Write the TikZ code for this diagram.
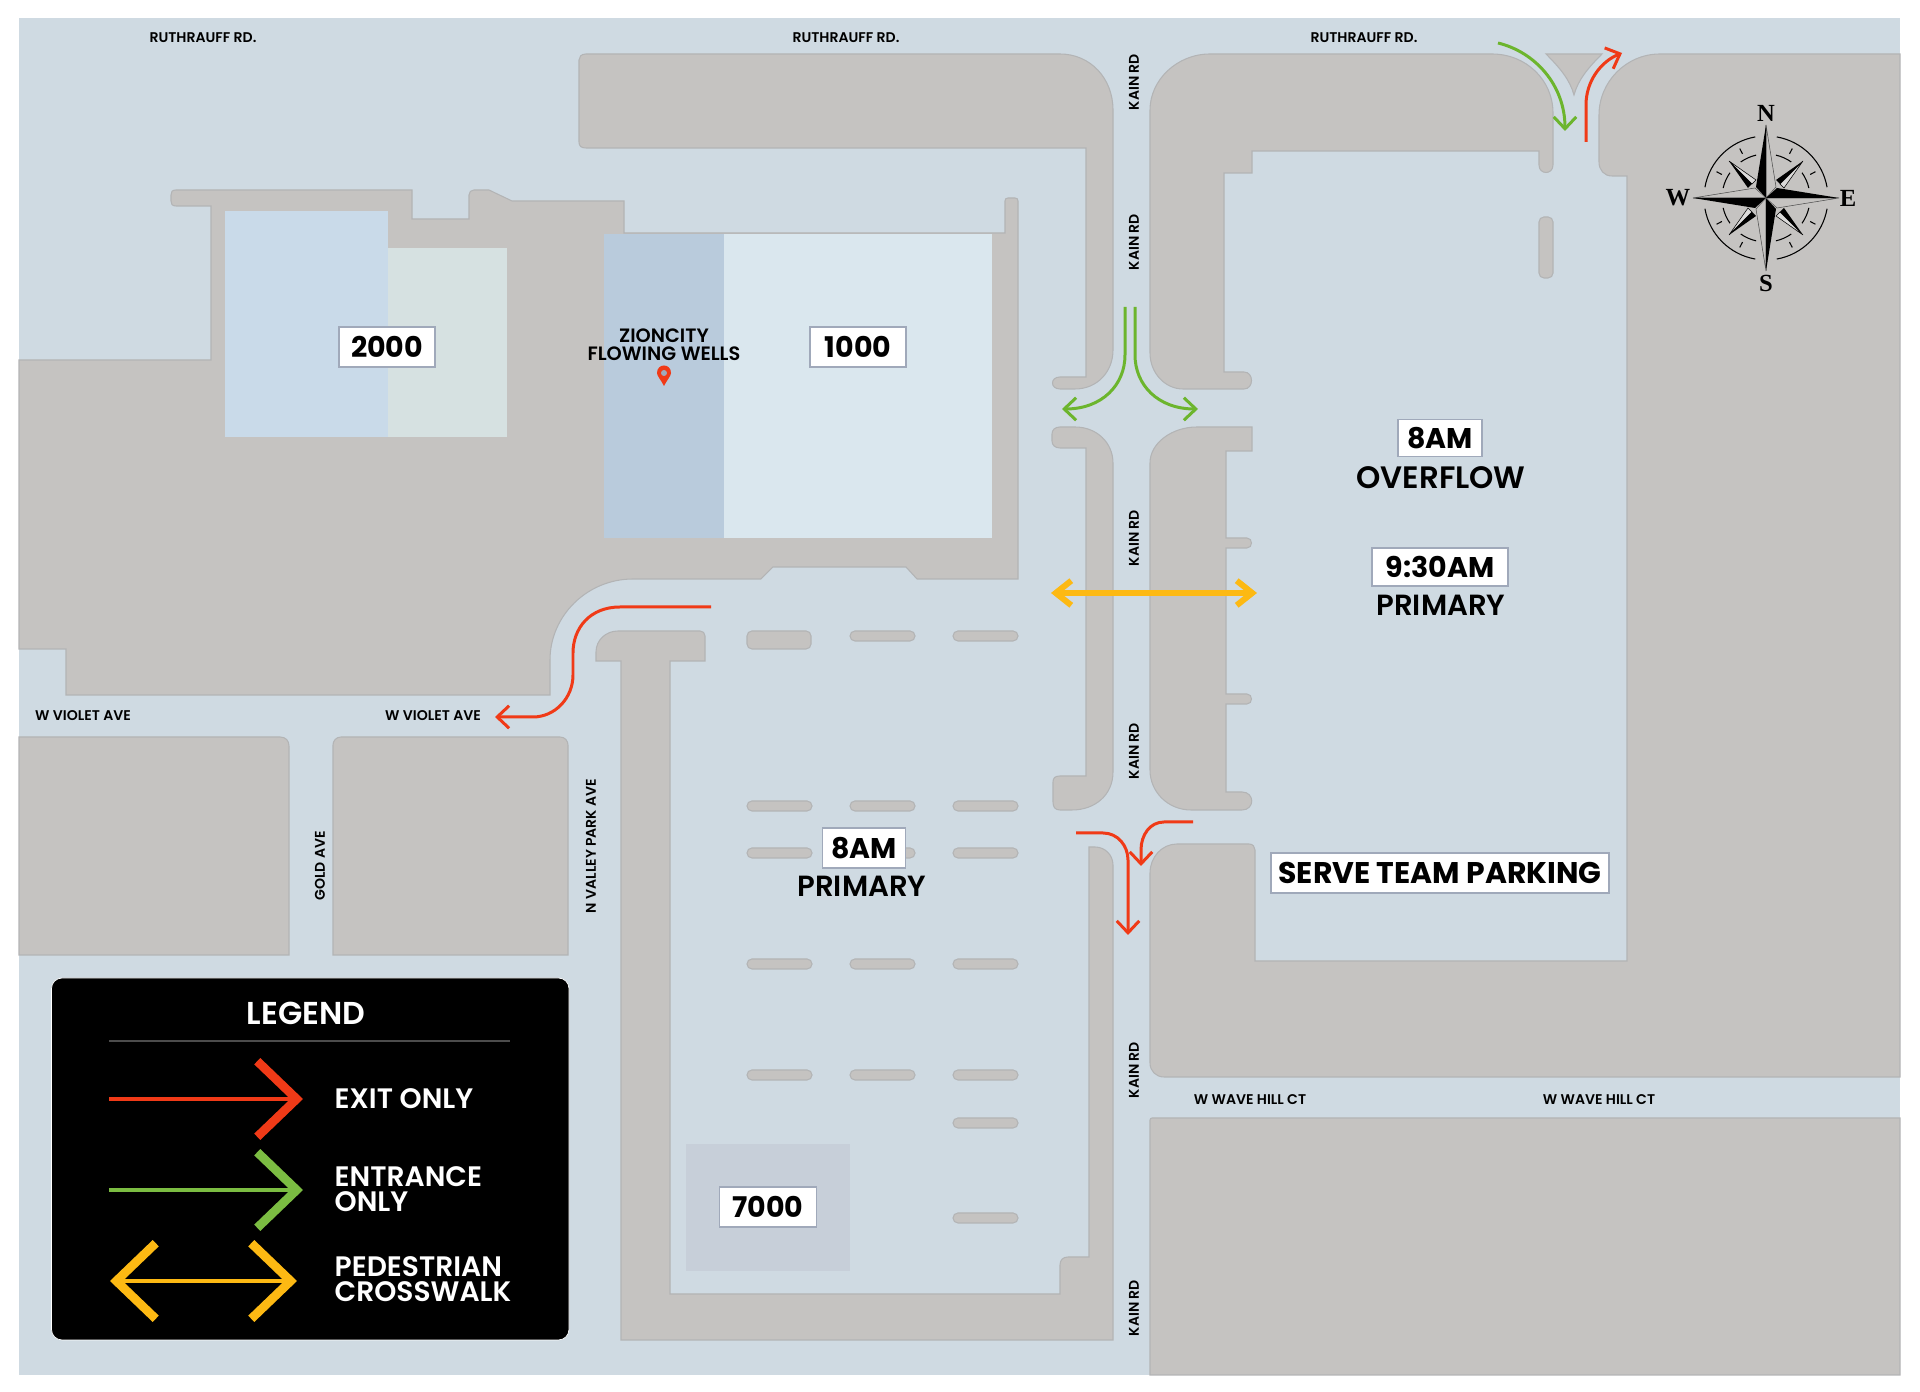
\documentclass[tikz,border=0pt]{standalone}
\usepackage{fontspec}
\setmainfont{Poppins}[BoldFont={Poppins SemiBold}]
\newfontfamily\compassfont{Liberation Serif}
\newfontfamily\tagfont{Poppins}[UprightFont={Poppins Bold}]
\usetikzlibrary{arrows.meta}
\definecolor{mapblue}{HTML}{CFDAE2}
\definecolor{roadgray}{HTML}{C5C3C1}
\definecolor{roadedge}{HTML}{B3B4B5}
\definecolor{tagedge}{HTML}{A0A9BA}
\definecolor{exitred}{HTML}{F03A17}
\definecolor{enterstroke}{HTML}{6CB52D}
\definecolor{walkyellow}{HTML}{FDB913}
\tikzset{
    block/.style={fill=roadgray,draw=roadedge,line width=0.3pt},
    pill/.style={block,rounded corners=1.4pt},
    tagbox/.style={fill=white,draw=tagedge,line width=0.4pt,inner sep=0pt,font=\fontsize{8.1}{9}\selectfont\tagfont},
    bigtext/.style={inner sep=0pt,font=\fontsize{8.3}{9}\selectfont\bfseries},
    street/.style={inner sep=0pt,font=\fontsize{4}{4}\selectfont\bfseries},
    exitline/.style={draw=exitred,line width=0.85pt,-{Straight Barb[length=3.4pt,width=6.4pt]}},
    enterline/.style={draw=enterstroke,line width=0.85pt,-{Straight Barb[length=3.4pt,width=6.4pt]}},
    walkline/.style={draw=walkyellow,line width=1.7pt,{Straight Barb[length=4.4pt,width=7pt,line width=1.7pt]}-{Straight Barb[length=4.4pt,width=7pt,line width=1.7pt]}},
    legendtext/.style={inner sep=0pt,anchor=west,align=left,text=white,font=\fontsize{8}{7.1}\selectfont\bfseries},
    legendtip/.style={line width=0.95pt,-{Straight Barb[length=11.2pt,width=21.5pt,line width=2.5pt]}},
    compassletter/.style={inner sep=0pt,font=\fontsize{7}{8}\selectfont\compassfont\bfseries},
}
\begin{document}
\begin{tikzpicture}[x=0.01cm,y=-0.01cm]
    \useasboundingbox (0,0) rectangle (1920,1392);
    \fill[mapblue] (18.5,18) rectangle (1900,1375);

    % parking lot and building ground
    \draw[block] (19,360) -- (211,360) -- (211,206) -- (176,206) .. controls (172,206) and (171,204) .. (171,201) -- (171,195) .. controls (171,192) and (172,190) .. (176,190) -- (412,190) -- (412,219) -- (469,219) -- (469,195) .. controls (469,192) and (471,190) .. (474,190) -- (489,190) -- (512,201) -- (624,201) -- (624,233) -- (1005,233) -- (1005,201) .. controls (1005,199) and (1006,198) .. (1008,198) -- (1015,198) .. controls (1017,198) and (1018,199) .. (1018,201) -- (1018,579) -- (917,579) -- (906,567) -- (773,567) -- (761,579) -- (633,579) .. controls (587,579) and (550,616) .. (550,660) -- (550,695) -- (66,695) -- (66,649) -- (19,649) -- cycle;

    % buildings
    \fill[fill={rgb,255:red,201;green,218;blue,233}] (225,211) rectangle (388,437);
    \fill[fill={rgb,255:red,214;green,225;blue,225}] (388,248) rectangle (507,437);
    \fill[fill={rgb,255:red,185;green,203;blue,220}] (604,234) rectangle (724,538);
    \fill[fill={rgb,255:red,218;green,231;blue,238}] (724,234) rectangle (992,538);
    \fill[fill={rgb,255:red,199;green,207;blue,217}] (686,1144) rectangle (850,1271);

    % road edges
    \draw[block] (586,54) -- (1060,54) .. controls (1090,54) and (1113,78) .. (1113,110) -- (1113,350) .. controls (1113,372) and (1097,389) .. (1075,389) -- (1060,389) .. controls (1050,389) and (1050,377) .. (1060,377) -- (1086,377) -- (1086,148) -- (586,148) .. controls (581,148) and (579,146) .. (579,142) -- (579,60) .. controls (579,57) and (581,54) .. (586,54) -- cycle;
    \draw[block] (1210,54) -- (1492,54) .. controls (1526,54) and (1553,80) .. (1553,113) -- (1553,165) .. controls (1553,175) and (1539,175) .. (1539,165) -- (1539,151) -- (1252,151) -- (1252,173) -- (1224,173) -- (1224,372) -- (1244,372) .. controls (1254,372) and (1254,389) .. (1244,389) -- (1183,389) .. controls (1165,389) and (1150,373) .. (1150,353) -- (1150,110) .. controls (1150,80) and (1177,54) .. (1210,54) -- cycle;
    \draw[block] (1546,54) -- (1602,54) .. controls (1588,68) and (1578,80) .. (1574,95) .. controls (1570,80) and (1560,68) .. (1546,54) -- cycle;
    \draw[block] (1660,54) -- (1900,54) -- (1900,1077) -- (1164,1077) .. controls (1156,1077) and (1150,1071) .. (1150,1063) -- (1150,873) .. controls (1150,857) and (1162,844) .. (1177,844) -- (1249,844) .. controls (1253,844) and (1255,847) .. (1255,850) -- (1255,961) -- (1627,961) -- (1627,176) -- (1612,176) .. controls (1604,176) and (1599,170) .. (1599,162) -- (1599,115) .. controls (1599,82) and (1626,54) .. (1660,54) -- cycle;
    \draw[block] (1150,1120) .. controls (1150,1119) and (1151,1118) .. (1152,1118) -- (1900,1118) -- (1900,1375) -- (1150,1375) -- cycle;
    \draw[block] (1086,448) -- (1086,776) -- (1060,776) .. controls (1055,776) and (1053,778) .. (1053,782) -- (1053,802) .. controls (1053,807) and (1055,810) .. (1060,810) -- (1072,810) .. controls (1095,810) and (1113,795) .. (1113,772) -- (1113,463) .. controls (1113,443) and (1097,427) .. (1075,427) -- (1060,427) .. controls (1055,427) and (1052,430) .. (1052,434) -- (1052,441) .. controls (1052,445) and (1055,448) .. (1060,448) -- cycle;
    \draw[block] (1197,427) -- (1252,427) -- (1252,451) -- (1226,451) -- (1226,538) -- (1247,538) .. controls (1253,538) and (1253,548) .. (1247,548) -- (1226,548) -- (1226,694) -- (1247,694) .. controls (1253,694) and (1253,704) .. (1247,704) -- (1226,704) -- (1226,792) -- (1242,792) .. controls (1255,792) and (1255,810) .. (1242,810) -- (1191,810) .. controls (1168,810) and (1150,792) .. (1150,770) -- (1150,463) .. controls (1150,443) and (1172,427) .. (1197,427) -- cycle;
    \draw[block] (621,661) -- (596,661) -- (596,652) .. controls (596,640) and (606,631) .. (618,631) -- (700,631) .. controls (703,631) and (705,633) .. (705,636) -- (705,661) -- (670,661) -- (670,1294) -- (1060,1294) -- (1060,1265) .. controls (1060,1260) and (1063,1257) .. (1068,1257) -- (1089,1257) -- (1089,847) -- (1095,847) .. controls (1105,847) and (1113,855) .. (1113,865) -- (1113,1340) -- (621,1340) -- cycle;
    \draw[block] (19,737) -- (280,737) .. controls (286,737) and (289,741) .. (289,746) -- (289,955) -- (19,955) -- cycle;
    \draw[block] (341,737) -- (560,737) .. controls (565,737) and (568,741) .. (568,745) -- (568,955) -- (333,955) -- (333,745) .. controls (333,741) and (336,737) .. (341,737) -- cycle;

    % parking islands
    \draw[pill] (747,631) rectangle (811,649);
    \foreach \i in {850,953} {
        \draw[pill] (\i,631) rectangle (\i+65,641);
    }
    \foreach \j in {801,848,959,1070} {
        \foreach \i in {747,850,953} {
            \draw[pill] (\i,\j) rectangle (\i+65,\j+10);
        }
    }
    \foreach \j in {1118,1213} {
        \draw[pill] (953,\j) rectangle (1018,\j+10);
    }
    \draw[pill] (1539,217) rectangle (1553,278);

    % arrows
    \coordinate (violetstart) at (711,607);
    \coordinate (violetend) at (495,717);
    \draw[exitline] (violetstart) -- (620,607) .. controls (590,607) and (573,628) .. (573,653) -- (573,675) .. controls (573,698) and (555,717) .. (533,717) -- (violetend);
    \coordinate (northexitstart) at (1586,142);
    \coordinate (northexitend) at (1622,53);
    \draw[exitline] (northexitstart) -- (1586,105) .. controls (1586,82) and (1600,62) .. (northexitend);
    \coordinate (southexitstart) at (1076,833);
    \coordinate (southexitend) at (1128,935);
    \draw[exitline] (southexitstart) -- (1103,833) .. controls (1118,833) and (1128,846) .. (1128,860) -- (southexitend);
    \coordinate (lotexitstart) at (1193,822);
    \coordinate (lotexitend) at (1141,866);
    \draw[exitline] (lotexitstart) -- (1164,822) .. controls (1150,822) and (1141,835) .. (1141,850) -- (lotexitend);
    \coordinate (northenterstart) at (1498,43);
    \coordinate (northenterend) at (1565,131);
    \draw[enterline] (northenterstart) .. controls (1535,52) and (1565,85) .. (northenterend);
    \coordinate (kainleftstart) at (1125,307);
    \coordinate (kainleftend) at (1062,409);
    \draw[enterline] (kainleftstart) -- (1125,355) .. controls (1125,385) and (1102,409) .. (kainleftend);
    \coordinate (kainrightstart) at (1135,307);
    \coordinate (kainrightend) at (1198,409);
    \draw[enterline] (kainrightstart) -- (1135,355) .. controls (1135,385) and (1158,409) .. (kainrightend);
    \coordinate (walkleft) at (1051,593);
    \coordinate (walkright) at (1257,593);
    \draw[walkline] (walkleft) -- (walkright);

    % street names
    \node[street] (ruthleft) at (203,38) {RUTHRAUFF RD.};
    \node[street] (ruthmid) at (846,38) {RUTHRAUFF RD.};
    \node[street] (ruthright) at (1364,38) {RUTHRAUFF RD.};
    \node[street] (violetleft) at (83,716) {W VIOLET AVE};
    \node[street] (violetright) at (433,716) {W VIOLET AVE};
    \node[street] (waveleft) at (1250,1100) {W WAVE HILL CT};
    \node[street] (waveright) at (1599,1100) {W WAVE HILL CT};
    \node[street,rotate=90] (gold) at (320,866) {GOLD AVE};
    \node[street,rotate=90] (valley) at (591,846) {N VALLEY PARK AVE};
    \foreach \j/\n in {82/a,242/b,538/c,751/d,1070/e,1308/f} {
        \node[street,rotate=90] (kain\n) at (1134,\j) {KAIN RD};
    }

    % building and lot tags
    \node[tagbox,minimum width=.96cm,minimum height=.40cm] (tagtwo) at (387,347) {2000};
    \node[tagbox,minimum width=.96cm,minimum height=.40cm] (tagone) at (858,347) {1000};
    \node[tagbox,minimum width=.97cm,minimum height=.40cm] (tagseven) at (768,1207) {7000};
    \node[tagbox,minimum width=.84cm,minimum height=.37cm] (tagover) at (1440,438) {8AM};
    \node[bigtext,font=\fontsize{8.8}{9}\selectfont\bfseries] (overflow) at (1441,478) {OVERFLOW};
    \node[tagbox,minimum width=1.36cm,minimum height=.38cm] (tagnine) at (1440,567) {9:30AM};
    \node[bigtext] (primaryright) at (1441,605) {PRIMARY};
    \node[tagbox,minimum width=.83cm,minimum height=.40cm] (tageight) at (864,848) {8AM};
    \node[bigtext] (primarylow) at (862,886) {PRIMARY};
    \node[tagbox,font=\fontsize{8.5}{9}\selectfont\tagfont,minimum width=3.38cm,minimum height=.40cm] (tagserve) at (1440,873) {SERVE TEAM PARKING};
    \node[street,font=\fontsize{5.5}{5}\selectfont\bfseries,align=center] (zion) at (664,345) {ZIONCITY\\FLOWING WELLS};

    % location pin
    \fill[exitred] (664,386) .. controls (661,380) and (657,376) .. (657,373) .. controls (657,363) and (671,363) .. (671,373) .. controls (671,376) and (667,380) .. (664,386) -- cycle;
    \fill[tagedge] (664,373) circle[radius=3];

    % legend
    \draw[fill=black,draw=white,line width=0.2pt,rounded corners=3pt] (51.5,978) rectangle (569,1340);
    \node[bigtext,text=white,font=\fontsize{9}{9}\selectfont\bfseries] (legendtitle) at (306,1013) {LEGEND};
    \coordinate (rulestart) at (109,1041);
    \coordinate (ruleend) at (510,1041);
    \draw[black!70!white,line width=0.3pt] (rulestart) -- (ruleend);
    \coordinate (exitstart) at (109,1099);
    \coordinate (exitend) at (303,1099);
    \draw[legendtip,exitred] (exitstart) -- (exitend);
    \coordinate (enterstart) at (109,1190);
    \coordinate (enterend) at (303,1190);
    \draw[legendtip,enterstroke!90!white] (enterstart) -- (enterend);
    \coordinate (walkstart) at (110,1281);
    \coordinate (walkend) at (297,1281);
    \draw[walkyellow,line width=0.95pt,{Straight Barb[length=11.2pt,width=21.5pt,line width=2.5pt]}-{Straight Barb[length=11.2pt,width=21.5pt,line width=2.5pt]}] (walkstart) -- (walkend);
    \node[legendtext] (legendexit) at (334,1099) {EXIT ONLY};
    \node[legendtext] (legendenter) at (334,1189) {ENTRANCE\\ONLY};
    \node[legendtext] (legendwalk) at (334,1279) {PEDESTRIAN\\CROSSWALK};

    % compass
    \begin{scope}[shift={(1766,198)},x=0.01cm,y=0.01cm]
        \foreach \ang in {0,90,180,270} {
            \begin{scope}[rotate=\ang]
                \draw[line width=0.3pt] (10:62) arc[start angle=10,end angle=80,radius=62];
                \draw[line width=0.3pt] (13:44) arc[start angle=13,end angle=35,radius=44];
                \draw[line width=0.3pt] (55:44) arc[start angle=55,end angle=77,radius=44];
                \draw[line width=0.3pt] (28:50) -- (28:56);
                \draw[line width=0.3pt] (62:50) -- (62:56);
                \fill[roadgray!60!white,draw=black,line width=0.15pt] (37,37) -- (18,10) -- (14,14) -- cycle;
                \fill (37,37) -- (10,18) -- (14,14) -- cycle;
            \end{scope}
        }
        \foreach \ang in {0,90,180,270} {
            \begin{scope}[rotate=\ang]
                \fill[roadgray,draw=black!70,line width=0.15pt] (0,73) -- (10,11) -- (0,0) -- cycle;
                \fill (0,73) -- (-10,11) -- (0,0) -- cycle;
            \end{scope}
        }
        \node[compassletter] (north) at (0,85) {N};
        \node[compassletter] (south) at (0,-85) {S};
        \node[compassletter] (east) at (82,0) {E};
        \node[compassletter] (west) at (-88,0) {W};
    \end{scope}
\end{tikzpicture}
\end{document}
